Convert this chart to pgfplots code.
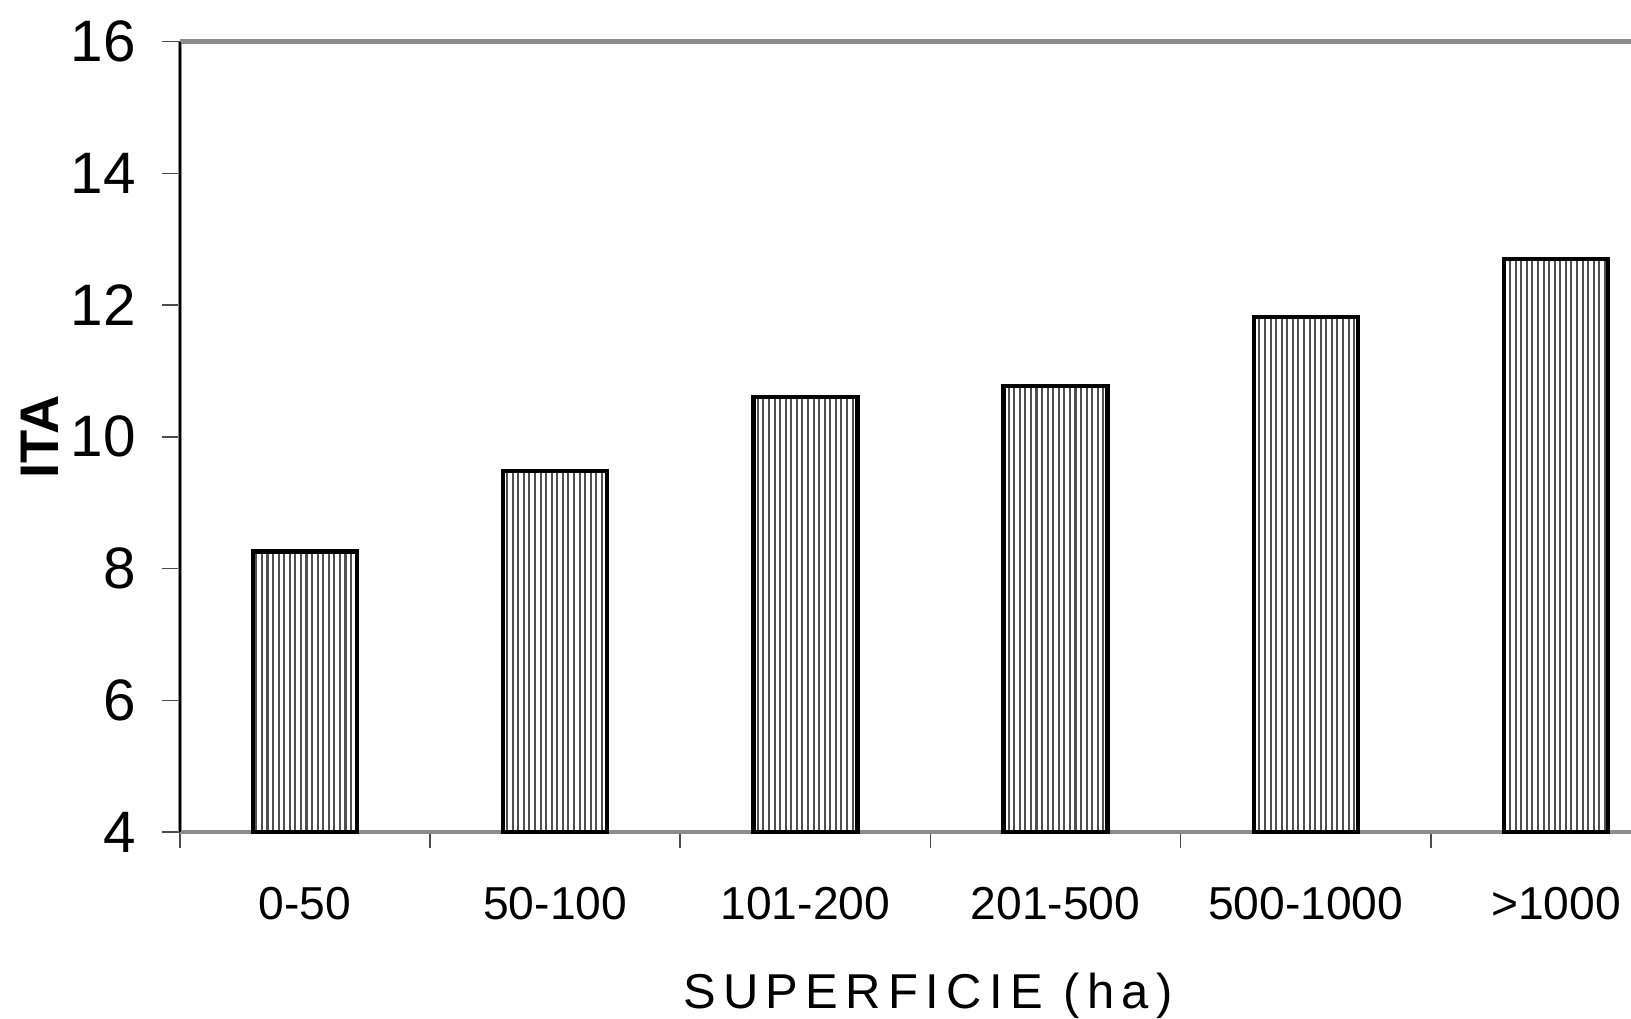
\documentclass[border=0pt]{standalone}
\usepackage{fontspec}
\setmainfont{Liberation Sans}
\usepackage{pgfplots}
\pgfplotsset{compat=1.18}
\usetikzlibrary{patterns.meta}

\definecolor{axgray}{HTML}{8C8C8C}
\definecolor{hatch}{HTML}{505050}

\begin{document}
\begin{tikzpicture}
\begin{axis}[
    scale only axis,
    width=533.8pt, height=290.8pt,
    at={(0,0)}, anchor=south west,
    xmin=-0.5, xmax=5.30,
    ymin=4, ymax=16,
    axis x line*=bottom,
    axis y line*=left,
    axis line style={draw=axgray, line width=1.6pt},
    ytick={4,6,...,16},
    xtick={0,1,2,3,4,5},
    xticklabels={0-50, 50-100, 101-200, 201-500, 500-1000, >1000},
    minor xtick={-0.5,0.5,1.5,2.5,3.5,4.5},
    major x tick style={draw=none},
    minor x tick style={draw=black!70, line width=0.6pt},
    y tick style={draw=black!70, line width=0.6pt},
    tick align=outside,
    major tick length=6.6pt,
    minor tick length=6pt,
    /pgf/number format/assume math mode=true,
    yticklabel style={font=\fontsize{21.5}{25}\selectfont, xshift=-6.2pt},
    xticklabel style={font=\fontsize{17}{20}\selectfont, yshift=-10pt},
    xlabel={\addfontfeature{LetterSpace=15}SUPERFICIE (ha)},
    xlabel style={font=\fontsize{18}{22}\selectfont, at={(axis description cs:0.5155,0)}, anchor=center, yshift=-60.2pt},
    ybar,
    bar width=0.416,
    clip=false,
]
\addplot[draw=black, line width=1.6pt,
    pattern={Lines[angle=90, distance=2.05pt, line width=0.75pt]},
    pattern color=hatch]
    coordinates {(0,8.26) (1,9.48) (2,10.60) (3,10.77) (4,11.82) (5,12.70)};
\draw[axgray, line width=1.6pt] (rel axis cs:0,1) -- (rel axis cs:1,1);
\draw[black, line width=0.5pt] (rel axis cs:0,0) -- (rel axis cs:0,1);
\node[rotate=90, font=\fontsize{20}{24}\selectfont\bfseries, anchor=center]
    at ([xshift=-51.5pt]rel axis cs:0,0.5) {ITA};
\end{axis}
\pgfresetboundingbox
\useasboundingbox (-66.2pt,-68.4pt) rectangle (533.8pt,306.1pt);
\end{tikzpicture}
\end{document}
